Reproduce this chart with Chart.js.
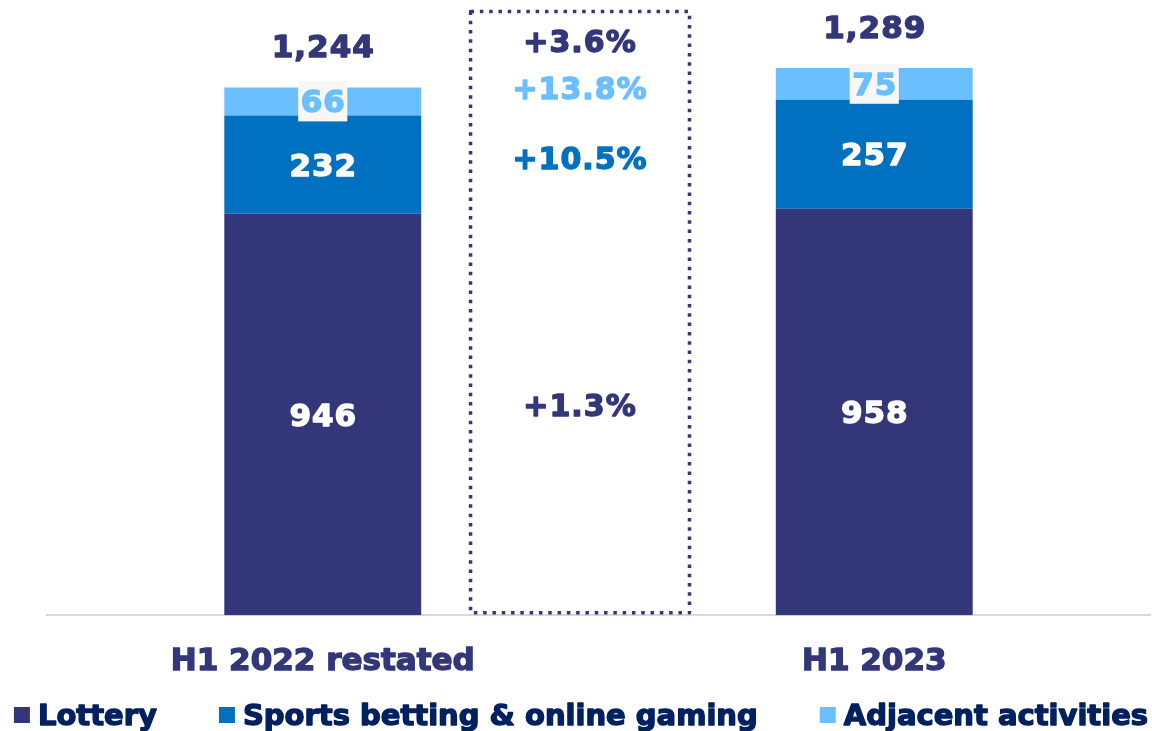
<!DOCTYPE html>
<html><head><meta charset="utf-8">
<script src="https://cdn.jsdelivr.net/npm/chart.js@4.4.0/dist/chart.umd.min.js"></script>
<style>html,body{margin:0;padding:0;background:#fff;} canvas{display:block;}</style>
</head><body>
<canvas id="c" width="1152" height="731"></canvas>
<script>
// ---- data ----
const categories = ['H1 2022 restated', 'H1 2023'];
const seriesNames = ['Lottery', 'Sports betting & online gaming', 'Adjacent activities'];
const lottery = [946, 958];
const sportsBetting = [232, 257];
const adjacent = [66, 75];
const totals = [1244, 1289];
const growthLabels = ['+1.3%', '+10.5%', '+13.8%', '+3.6%']; // lottery, sports, adjacent, total

// ---- style ----
const seriesColors = ['#333679', '#0070C0', '#6BBFFF'];
const growthColors = ['#333679', '#0070C0', '#6BBFFF', '#333679'];
const FONT = '"DejaVu Sans", Verdana, sans-serif';
const STROKE = 1.4; // extra weight to approach Verdana Bold
const bracket = { from: 0.268, to: 0.665, low: 6, high: 1423 }; // category-index / value units

function heavyText(ctx, txt, x, y, color) {
  ctx.fillStyle = color;
  ctx.strokeStyle = color;
  ctx.lineWidth = STROKE;
  ctx.lineJoin = 'round';
  ctx.strokeText(txt, x, y);
  ctx.fillText(txt, x, y);
}

const valueLabels = {
  id: 'valueLabels',
  afterDatasetsDraw(chart) {
    const ctx = chart.ctx, ys = chart.scales.y, xs = chart.scales.x;
    ctx.save();
    ctx.textAlign = 'center';
    ctx.textBaseline = 'middle';
    ctx.font = 'bold 31px ' + FONT;
    try { ctx.letterSpacing = '1px'; } catch (e) {}
    chart.data.datasets.forEach((ds, di) => {
      chart.getDatasetMeta(di).data.forEach((bar, i) => {
        const cy = (bar.y + bar.base) / 2;
        const txt = String(ds.data[i]);
        let color = '#FFFFFF';
        if (di === 2) {
          const w = ctx.measureText(txt).width + 4;
          ctx.fillStyle = '#F7F7F7';
          ctx.fillRect(bar.x - w / 2, cy - 20, w, 40);
          color = seriesColors[2];
        }
        heavyText(ctx, txt, bar.x + 0.5, cy + 3, color);
      });
    });
    // totals above bars
    const topMeta = chart.getDatasetMeta(2);
    totals.forEach((t, i) => {
      heavyText(ctx, t.toLocaleString('en-US'), topMeta.data[i].x + 0.5, ys.getPixelForValue(t) - 38, '#333679');
    });

    // dotted bracket between the bars
    const l = xs.getPixelForValue(bracket.from), r = xs.getPixelForValue(bracket.to);
    const t = ys.getPixelForValue(bracket.high), b = ys.getPixelForValue(bracket.low);
    ctx.strokeStyle = '#333679';
    ctx.lineWidth = 3.5;
    ctx.setLineDash([3.5, 5.8]);
    ctx.strokeRect(l, t, r - l, b - t);
    ctx.setLineDash([]);

    // growth labels
    const cx = (l + r) / 2;
    const series = [lottery, sportsBetting, adjacent];
    const base = categories.map(() => 0);
    const nudge = [-5, 1.5, -1.5];
    ctx.font = 'bold 30px ' + FONT;
    series.forEach((s, k) => {
      const mid = categories.reduce((acc, _, i) => acc + base[i] + s[i] / 2, 0) / categories.length;
      categories.forEach((_, i) => base[i] += s[i]);
      heavyText(ctx, growthLabels[k], cx, ys.getPixelForValue(mid) + nudge[k], growthColors[k]);
    });
    const avgTop = totals.reduce((a, v) => a + v, 0) / totals.length;
    heavyText(ctx, growthLabels[3], cx, ys.getPixelForValue(avgTop) - 34, growthColors[3]);
    ctx.restore();
  }
};

// legend drawn from the datasets (square marker, tight text gap, wide item gap)
const bottomLegend = {
  id: 'bottomLegend',
  afterDraw(chart) {
    const ctx = chart.ctx;
    const box = 16, gapText = 8, gapItem = 62;
    ctx.save();
    ctx.font = 'bold 29px ' + FONT;
    ctx.textBaseline = 'middle';
    ctx.textAlign = 'left';
    const items = chart.data.datasets.map(ds => ({ text: ds.label, color: ds.backgroundColor, w: ctx.measureText(ds.label).width }));
    const total = items.reduce((a, it) => a + box + gapText + it.w, 0) + gapItem * (items.length - 1);
    let x = (chart.width - total) / 2 + 5;
    const y = chart.height - 16;
    items.forEach(it => {
      ctx.fillStyle = it.color;
      ctx.fillRect(x, y - box / 2, box, box);
      heavyText(ctx, it.text, x + box + gapText, y + 2, '#002060');
      x += box + gapText + it.w + gapItem;
    });
    ctx.restore();
  }
};

new Chart(document.getElementById('c'), {
  type: 'bar',
  data: {
    labels: categories,
    datasets: [
      { label: seriesNames[0], data: lottery, backgroundColor: seriesColors[0], borderWidth: 0 },
      { label: seriesNames[1], data: sportsBetting, backgroundColor: seriesColors[1], borderWidth: 0 },
      { label: seriesNames[2], data: adjacent, backgroundColor: seriesColors[2], borderWidth: 0 }
    ]
  },
  options: {
    responsive: false,
    devicePixelRatio: 1,
    animation: false,
    layout: { padding: { top: 0, left: 47, right: 2, bottom: 23 } },
    datasets: { bar: { categoryPercentage: 1, barPercentage: 0.357 } },
    scales: {
      x: {
        stacked: true,
        grid: { display: false, drawTicks: false },
        border: { display: true, color: '#D9D9D9', width: 2 },
        ticks: {
          color: '#333679', padding: 27.8,
          textStrokeColor: '#333679', textStrokeWidth: STROKE,
          font: { family: FONT, size: 31, weight: 'bold' }
        }
      },
      y: { stacked: true, display: false, min: 0, max: 1450 }
    },
    plugins: {
      tooltip: { enabled: false },
      legend: { display: false }
    }
  },
  plugins: [valueLabels, bottomLegend]
});
</script>
</body></html>
